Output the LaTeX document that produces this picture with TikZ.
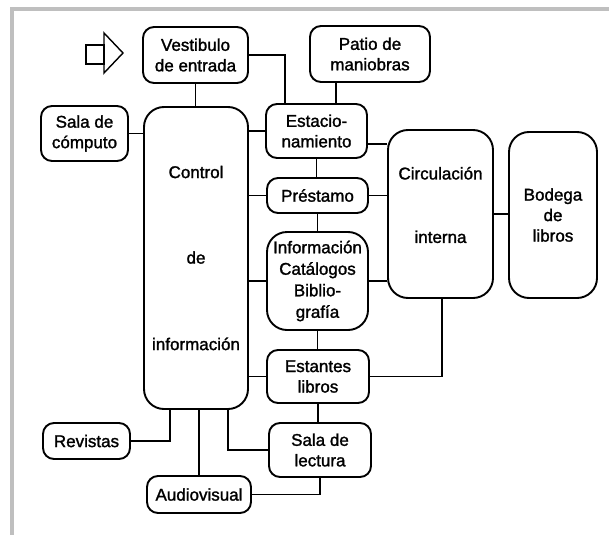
\documentclass[tikz,border=0pt]{standalone}
\usepackage{fontspec}
\setmainfont{Liberation Sans}[BoldFont={Liberation Sans}, BoldFeatures={FakeBold=1.5}]
\usetikzlibrary{positioning}
\usetikzlibrary{calc}

\begin{document}
\begin{tikzpicture}[x=1pt, y=-1pt,
    every node/.style={font=\fontsize{17}{20.5}\selectfont\bfseries, align=center, inner sep=0pt},
    room/.style={draw, line width=1.9pt, rounded corners=11pt},
    hall/.style={draw, line width=1.9pt, rounded corners=20pt},
    link/.style={line width=1.6pt}]
    \useasboundingbox (0,0) rectangle (609,535);
    % frame of the scanned page
    \fill[black!25] (10,7) rectangle (609,11);
    \fill[black!25] (10,7) rectangle (14,535);
    % entrance arrow
    \draw[line width=1.4pt] (86,45) rectangle (104,64);
    \draw[line width=1.4pt] (104,33) -- (123,53) -- (104,73) -- cycle;
    % rooms
    \node[room, minimum width=105, minimum height=56] (vest) at (195.5, 55) {Vestibulo\\de entrada};
    \node[room, minimum width=120, minimum height=56] (patio) at (370, 54) {Patio de\\maniobras};
    \node[room, minimum width=87, minimum height=55] (comp) at (84.5, 133.5) {Sala de\\cómputo};
    \node[hall, minimum width=104, minimum height=302] (control) at (196, 258) {Control\\[65pt]de\\[66pt]información};
    \node[room, minimum width=101, minimum height=54] (estac) at (316.5, 131) {Estacio-\\namiento};
    \node[room, minimum width=101, minimum height=35] (prest) at (317.5, 195.5) {Préstamo};
    \node[hall, minimum width=101, minimum height=98] (info) at (317.5, 281) {Información\\[1pt]Catálogos\\[1pt]Biblio-\\[1pt]grafía};
    \node[room, minimum width=102, minimum height=53] (estant) at (318, 376.5) {Estantes\\libros};
    \node[room, minimum width=102, minimum height=54] (lect) at (320, 450) {Sala de\\lectura};
    \node[room, minimum width=87, minimum height=36] (revis) at (86.5, 441) {Revistas};
    \node[room, minimum width=104, minimum height=37] (audio) at (199, 494.5) {Audiovisual};
    \node[hall, minimum width=105, minimum height=168] (circ) at (440.5, 214) {};
    \node (circtxt) at ([yshift=9]circ.center) {Circulación\\[43pt]interna};
    \node[hall, minimum width=88, minimum height=166] (bodega) at (553, 215) {Bodega\\de\\libros};
    % connections
    \draw[link] (vest.south) -- (vest.south |- control.north);
    \draw[link] (vest.east) -| ([xshift=20]estac.north west);
    \draw[link] ([xshift=27]patio.south west) -- ([xshift=27]patio.south west |- estac.north);
    \draw[link] (comp.east) -- (comp.east -| control.west);
    \draw[link] (estac.west) -- (estac.west -| control.east);
    \draw[link] ([yshift=-13]estac.east) -- ([yshift=-13]estac.east -| circ.west);
    \draw[link] (estac.south) -- (estac.south |- prest.north);
    \draw[link] (prest.west) -- (prest.west -| control.east);
    \draw[link] (prest.east) -- (prest.east -| circ.west);
    \draw[link] (prest.south) -- (prest.south |- info.north);
    \draw[link] (info.west) -- (info.west -| control.east);
    \draw[link] (info.east) -- (info.east -| circ.west);
    \draw[link] (circ.east) -- (circ.east -| bodega.west);
    \draw[link] (info.south) -- (info.south |- estant.north);
    \draw[link] (estant.east) -| ([xshift=1.5]circ.south);
    \draw[link] (estant.west) -- (estant.west -| control.east);
    \draw[link] (estant.south) -- (estant.south |- lect.north);
    \draw[link] ([xshift=-26]control.south) |- (revis.east);
    \draw[link] (audio.north) -- (audio.north |- control.south);
    \draw[link] ([xshift=32]control.south) |- (lect.west);
    \draw[link] (lect.south) |- (audio.east);
\end{tikzpicture}
\end{document}
